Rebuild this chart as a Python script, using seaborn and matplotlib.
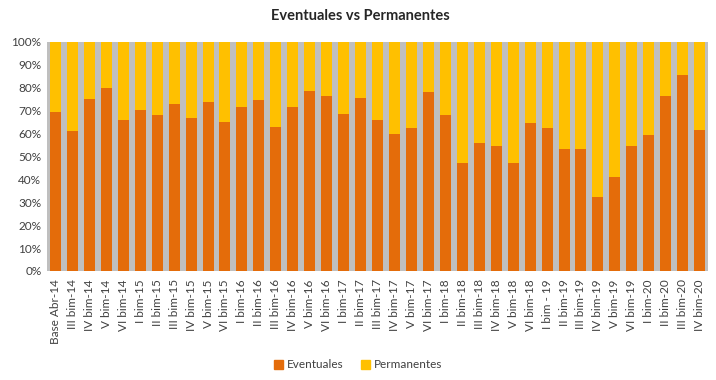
import matplotlib
matplotlib.use("Agg")
import matplotlib.pyplot as plt
import seaborn as sns
import pandas as pd
from matplotlib.patches import Patch
from matplotlib.ticker import PercentFormatter

periodos = [
    "Base Abr-14", "III bim-14", "IV bim-14", "V bim-14", "VI bim-14",
    "I bim-15", "II bim-15", "III bim-15", "IV bim-15", "V bim-15", "VI bim-15",
    "I bim-16", "II bim-16", "III bim-16", "IV bim-16", "V bim-16", "VI bim-16",
    "I bim-17", "II bim-17", "III bim-17", "IV bim-17", "V bim-17", "VI bim-17",
    "I bim-18", "II bim-18", "III bim-18", "IV bim-18", "V bim-18", "VI bim-18",
    "I bim - 19", "II bim-19", "III bim-19", "IV bim-19", "V bim-19", "VI bim-19",
    "I bim-20", "II bim-20", "III bim-20", "IV bim-20",
]

# share of eventuales (%), permanentes is the rest up to 100
eventuales = [
    69.5, 61.0, 75.0, 80.0, 65.7,
    70.4, 68.0, 73.0, 66.6, 73.9, 65.1,
    71.5, 74.5, 62.9, 71.4, 78.7, 76.2,
    68.5, 75.6, 65.8, 59.7, 62.3, 78.2,
    67.9, 47.2, 55.9, 54.5, 47.2, 64.5,
    62.5, 53.3, 53.0, 32.1, 40.9, 54.5,
    59.4, 76.4, 85.3, 61.3,
]
permanentes = [100 - v for v in eventuales]

df = pd.DataFrame({"periodo": periodos, "eventuales": eventuales, "permanentes": permanentes})
df["total"] = df["eventuales"] + df["permanentes"]

c_event = "#E46C0A"
c_perm = "#FFC000"

sns.set_style("white")
plt.rcParams["font.family"] = ["Lato", "DejaVu Sans"]

fig = plt.figure(figsize=(7.16, 3.80), dpi=100)
ax = fig.add_axes([0.0656, 0.287, 0.9234, 0.603])
ax.set_facecolor("#BFBFBF")

sns.barplot(data=df, x="periodo", y="total", color=c_perm, width=0.65,
            saturation=1, linewidth=0, ax=ax)
sns.barplot(data=df, x="periodo", y="eventuales", color=c_event, width=0.65,
            saturation=1, linewidth=0, ax=ax)

ax.set_ylim(0, 100)
ax.set_xlim(-0.5, len(periodos) - 0.5)
ax.set_yticks(range(0, 101, 10))
ax.yaxis.set_major_formatter(PercentFormatter(decimals=0))
ax.set_xlabel("")
ax.set_ylabel("")
ax.tick_params(axis="x", rotation=90, labelsize=8.5, colors="#404040", length=0, pad=6)
ax.tick_params(axis="y", labelsize=8.5, colors="#404040", length=0, pad=4)
for s in ax.spines.values():
    s.set_visible(False)

fig.suptitle("Eventuales vs Permanentes", x=0.503, y=0.975, fontsize=10.5,
             fontweight="bold", color="#262626")

handles = [Patch(color=c_event, label="Eventuales"),
           Patch(color=c_perm, label="Permanentes")]
fig.legend(handles=handles, loc="center", bbox_to_anchor=(0.5, 0.04), ncol=2,
           frameon=False, fontsize=8.5, handlelength=0.8, handleheight=0.8,
           handletextpad=0.3, columnspacing=1.5, labelcolor="#404040")

fig.savefig("out.png", dpi=100)
